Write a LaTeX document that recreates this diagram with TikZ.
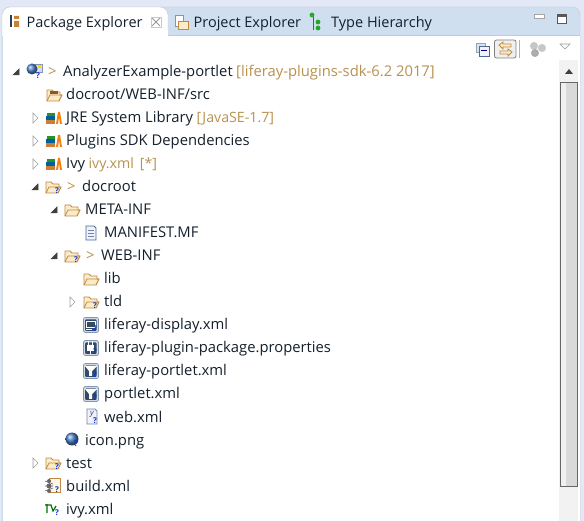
\documentclass[tikz,border=0pt]{standalone}
\usepackage{fontspec}
\setmainfont{Open Sans}
\definecolor{winbg}{HTML}{E3E8F6}
\definecolor{tabbar}{HTML}{CFDFEF}
\definecolor{frameline}{HTML}{C6C9CF}
\definecolor{labeltext}{HTML}{14202C}
\definecolor{decotext}{HTML}{B8924F}
\definecolor{foldertan}{HTML}{C08A45}
\definecolor{folderfill}{HTML}{FBEBC8}
\definecolor{helpblue}{HTML}{0A36C0}
\definecolor{slate}{HTML}{4A6A92}
\tikzset{
  basetext/.style={anchor=base west, inner sep=0pt, text=labeltext, font=\fontsize{14.8}{16}\selectfont},
  rowtext/.style={basetext, yshift=-5pt},
  gtmark/.style={rowtext, text=decotext},
  decotail/.style={basetext, text=decotext, xshift=3pt},
  tabtext/.style={rowtext, font=\fontsize{14.5}{17}\selectfont},
  closed/.style={draw=gray!75, fill=white, line width=0.7pt},
  opened/.style={draw=black!75, fill=black!75, line width=0.5pt},
  foldericon/.pic={
    \draw[foldertan, fill=folderfill, line width=0.9pt, line join=round]
      (-7,6) -- (-7,-5) -- (-2,-5) -- (0,-3) -- (6,-3) -- (6,0) -- (8,0) -- (5,6) -- cycle;
    \draw[foldertan, line width=0.7pt] (-7,6) -- (-4,0) -- (8,0);
  },
  helpmark/.pic={
    \node[inner sep=0pt, text=helpblue, font=\bfseries\fontsize{8}{8}\selectfont] (-help) at (0,0) {?};
  },
  libicon/.pic={
    \fill[brown!85!orange] (-8,2) rectangle (1,6);
    \fill[teal!75!blue] (-8,-2) rectangle (1,2);
    \fill[green!50!black!85] (-7,-5) rectangle (1,-2);
    \fill[orange!85!brown] (2,6) -- (4,-6) -- (6,-6) -- (8,6) -- (6,6) -- (5,-1) -- (4,6) -- cycle;
  },
  docicon/.pic={
    \draw[slate, fill=blue!6, line width=0.8pt] (-5,-7) -- (3,-7) -- (5,-5) -- (5,7) -- (-5,7) -- cycle;
    \foreach \ly in {-3,0,3}
      \draw[slate!80, line width=0.7pt] (-3,\ly) -- (3,\ly);
  },
  badgeicon/.pic={
    \draw[slate!70, fill=slate!25, rounded corners=2pt, line width=0.8pt] (-7.5,-7.5) rectangle (7.5,7.5);
    \fill[slate!70!black, rounded corners=1pt] (-6,-5.5) rectangle (5.5,6);
  },
}
\begin{document}
\begin{tikzpicture}[x=1pt, y=-1pt, >=latex]
  \useasboundingbox (0,0) rectangle (584,521);
  % ==== WINDOW ====
  \fill[winbg] (0,0) rectangle (584,521);
  \draw[frameline, fill=tabbar] (2,521) -- (2,15) arc (180:270:8) -- (572,7) arc (-90:0:8) -- (580,521) -- cycle;
  \fill[white] (3,36) rectangle (579.5,521);
  \draw[frameline] (168,35.5) -- (579.5,35.5);
  \draw[frameline, fill=white] (2,36) -- (2,15) arc (180:270:8) -- (160,7) arc (-90:0:8) -- (168,36);
  \fill[white] (2.5,30) rectangle (167.5,37);

  % ==== TABS ====
  \fill[slate!60!black] (10,15) rectangle (12,27);
  \fill[brown!80!orange] (14,16) rectangle (19,19) (14,21) rectangle (19,27);
  \node[tabtext] (packagetab) at (26.5,23) {Package Explorer};
  \draw[gray!80, line width=0.8pt] (152,18) -- (160,26) (160,18) -- (152,26);
  \draw[frameline, line width=0.4pt] (151,17) rectangle (161,27);
  \draw[slate!70, fill=white, line width=0.6pt] (175,15) rectangle (183,26);
  \draw[foldertan, fill=folderfill, line width=0.7pt] (178,21) rectangle (188,29);
  \node[tabtext] (projecttab) at (193.5,23) {Project Explorer};
  \draw[gray!70!black, line width=0.7pt] (313,15) -- (313,30);
  \foreach \dy/\dx in {15/-1,22/5,28/5}
    \fill[green!60!black!85] (313+\dx,\dy) circle (2.4);
  \node[tabtext] (hierarchytab) at (331,23) {Type Hierarchy};
  \draw[gray!70, fill=white, line width=0.7pt] (534,14) rectangle (544,18);
  \draw[gray!70!black, fill=white, line width=0.7pt] (557.5,14.5) rectangle (566.5,23.5);
  \draw[gray!70!black, line width=1.4pt] (557.5,16) -- (566.5,16);

  % ==== TOOLBAR ====
  \draw[slate!60, fill=slate!20, line width=0.7pt] (476,43) rectangle (485,52);
  \draw[slate, fill=blue!5, line width=0.8pt] (479,46) rectangle (489,56);
  \draw[blue!50!black, line width=1pt] (481,51) -- (487,51);
  \draw[gray, fill=gray!12, rounded corners=2pt, line width=0.8pt] (494.5,40) rectangle (516,58);
  \draw[foldertan, fill=folderfill, line width=0.8pt] (499,45) -- (503,42) -- (503,44) -- (511,44) -- (511,47) -- (503,47) -- (503,49) -- cycle;
  \draw[foldertan, fill=folderfill, line width=0.8pt] (512,52) -- (508,49) -- (508,51) -- (500,51) -- (500,54) -- (508,54) -- (508,56) -- cycle;
  \draw[gray!60] (519.5,40) -- (519.5,58);
  \fill[gray!45] (534,46) circle (4) (542,48) circle (4);
  \fill[gray!65] (535,53) circle (4);
  \draw[gray!80, fill=white, line width=0.6pt] (560,44) -- (570,44) -- (565,49) -- cycle;

  % ==== SCROLLBAR ====
  \fill[gray!10] (559,60) rectangle (578,521);
  \fill[black!75] (565,74) -- (573,74) -- (569,69) -- cycle;
  \draw[gray!80!black, fill=gray!12, line width=0.7pt] (560,82.5) rectangle (577,486);
  \fill[gray!30] (566,83) rectangle (576.5,485.5);

  % ==== TREE ARROWS ====
  \foreach \ax/\ay in {16/72,35/187,54/210,54/256}
    \draw[opened] (\ax-3,\ay+3) -- (\ax+3,\ay+3) -- (\ax+3,\ay-3) -- cycle;
  \foreach \ax/\ay in {36/118,36/141,36/164,73/302,36/463}
    \draw[closed] (\ax-3,\ay-5) -- (\ax+2,\ay) -- (\ax-3,\ay+5) -- cycle;

  % ==== ICONS ====
  \draw[slate!70, fill=blue!15, line width=0.6pt] (31,64) rectangle (42,72);
  \shade[ball color=teal!60!blue!70] (32,69) circle (5.5);
  \fill[yellow!70!orange] (38,65) rectangle (41,68);
  \pic at (38,76) {helpmark};
  \pic at (54,95) {foldericon};
  \fill[brown!70!black] (50,91) rectangle (58,94);
  \foreach \iy in {118,141,164}
    \pic at (54,\iy) {libicon};
  \pic at (53,187) {foldericon};
  \pic at (57,191) {helpmark};
  \pic at (72,210) {foldericon};
  \pic at (91,233) {docicon};
  \pic at (72,256) {foldericon};
  \pic at (76,260) {helpmark};
  \pic at (91,279) {foldericon};
  \pic at (91,302) {foldericon};
  \pic at (95,306) {helpmark};
  \foreach \iy in {325,348,371,394}
    \pic at (91,\iy) {badgeicon};
  % glyphs on the badges
  \draw[white, line width=0.9pt] (86,321) rectangle (95,327) (86,329) -- (92,329);
  \draw[white, fill=white] (87,345) rectangle (93,350) (88,341) -- (88,345) (92,341) -- (92,345) (90,350) -- (90,354);
  \foreach \iy in {371,394}
    \fill[white] (85,\iy-5) -- (97,\iy-5) -- (92,\iy) -- (92,\iy+5) -- (89,\iy+5) -- (89,\iy) -- cycle;
  \foreach \iy in {325,348,371,394}
    \pic at (95,\iy+4) {helpmark};
  \draw[slate!80, fill=blue!6, line width=0.8pt] (87,409) -- (95,409) -- (97,411) -- (97,424) -- (87,424) -- cycle;
  \node[inner sep=0pt, text=slate!70!black, font=\itshape\fontsize{8}{8}\selectfont] (webmark) at (92,414) {y};
  \pic at (95,421) {helpmark};
  \shade[ball color=teal!60!blue!70] (72,439) circle (6.5);
  \pic at (76,444) {helpmark};
  \pic at (53,463) {foldericon};
  \pic at (57,467) {helpmark};
  \draw[foldertan, fill=folderfill!40, line width=0.7pt] (49,478) rectangle (60,492);
  \fill[black!60] (49,481) circle (2) (49,486) circle (2.5) (49,491) circle (2);
  \draw[black!60, line width=0.6pt] (45,481) -- (53,484) (45,486) -- (53,486) (45,491) -- (53,488);
  \pic at (57,490) {helpmark};
  \draw[green!45!black, line width=1.2pt] (47,504) -- (47,513) (45,505) -- (51,505) -- (53,511) -- (56,506);
  \pic at (57,513) {helpmark};

  % ==== ROW LABELS ====
  \node[gtmark] (rootmark) at (48,72) {>};
  \node[rowtext] (rootrow) at (63,72) {AnalyzerExample-portlet};
  \node[decotail] (rootdeco) at (rootrow.base east) {[liferay-plugins-sdk-6.2 2017]};
  \node[rowtext] (srcrow) at (66,95) {docroot/WEB-INF/src};
  \node[rowtext] (jrerow) at (66,118) {JRE System Library};
  \node[decotail, font=\fontsize{14.2}{16}\selectfont] (jredeco) at (jrerow.base east) {[JavaSE-1.7]};
  \node[rowtext] (pluginsrow) at (66,141) {Plugins SDK Dependencies};
  \node[rowtext] (ivyrow) at (66,164) {Ivy};
  \node[decotail, font=\fontsize{14.2}{16}\selectfont] (ivydeco) at (ivyrow.base east) {ivy.xml\hspace{6pt}[*]};
  \node[gtmark] (docrootmark) at (67,187) {>};
  \node[rowtext] (docrootrow) at (82,187) {docroot};
  \node[rowtext] (metarow) at (85,210) {META-INF};
  \node[rowtext] (manifestrow) at (104,233) {MANIFEST.MF};
  \node[gtmark] (webinfmark) at (86,256) {>};
  \node[rowtext] (webrow) at (101,256) {WEB-INF};
  \node[rowtext] (librow) at (104,279) {lib};
  \node[rowtext] (tldrow) at (104,302) {tld};
  \node[rowtext] (displayrow) at (104,325) {liferay-display.xml};
  \node[rowtext] (pluginrow) at (104,348) {liferay-plugin-package.properties};
  \node[rowtext] (portletrow) at (104,371) {liferay-portlet.xml};
  \node[rowtext] (portletxmlrow) at (104,394) {portlet.xml};
  \node[rowtext] (webxmlrow) at (104,417) {web.xml};
  \node[rowtext] (iconrow) at (85,440) {icon.png};
  \node[rowtext] (testrow) at (66,463) {test};
  \node[rowtext] (buildrow) at (66,486) {build.xml};
  \node[rowtext] (ivyxmlrow) at (66,509) {ivy.xml};
\end{tikzpicture}
\end{document}
